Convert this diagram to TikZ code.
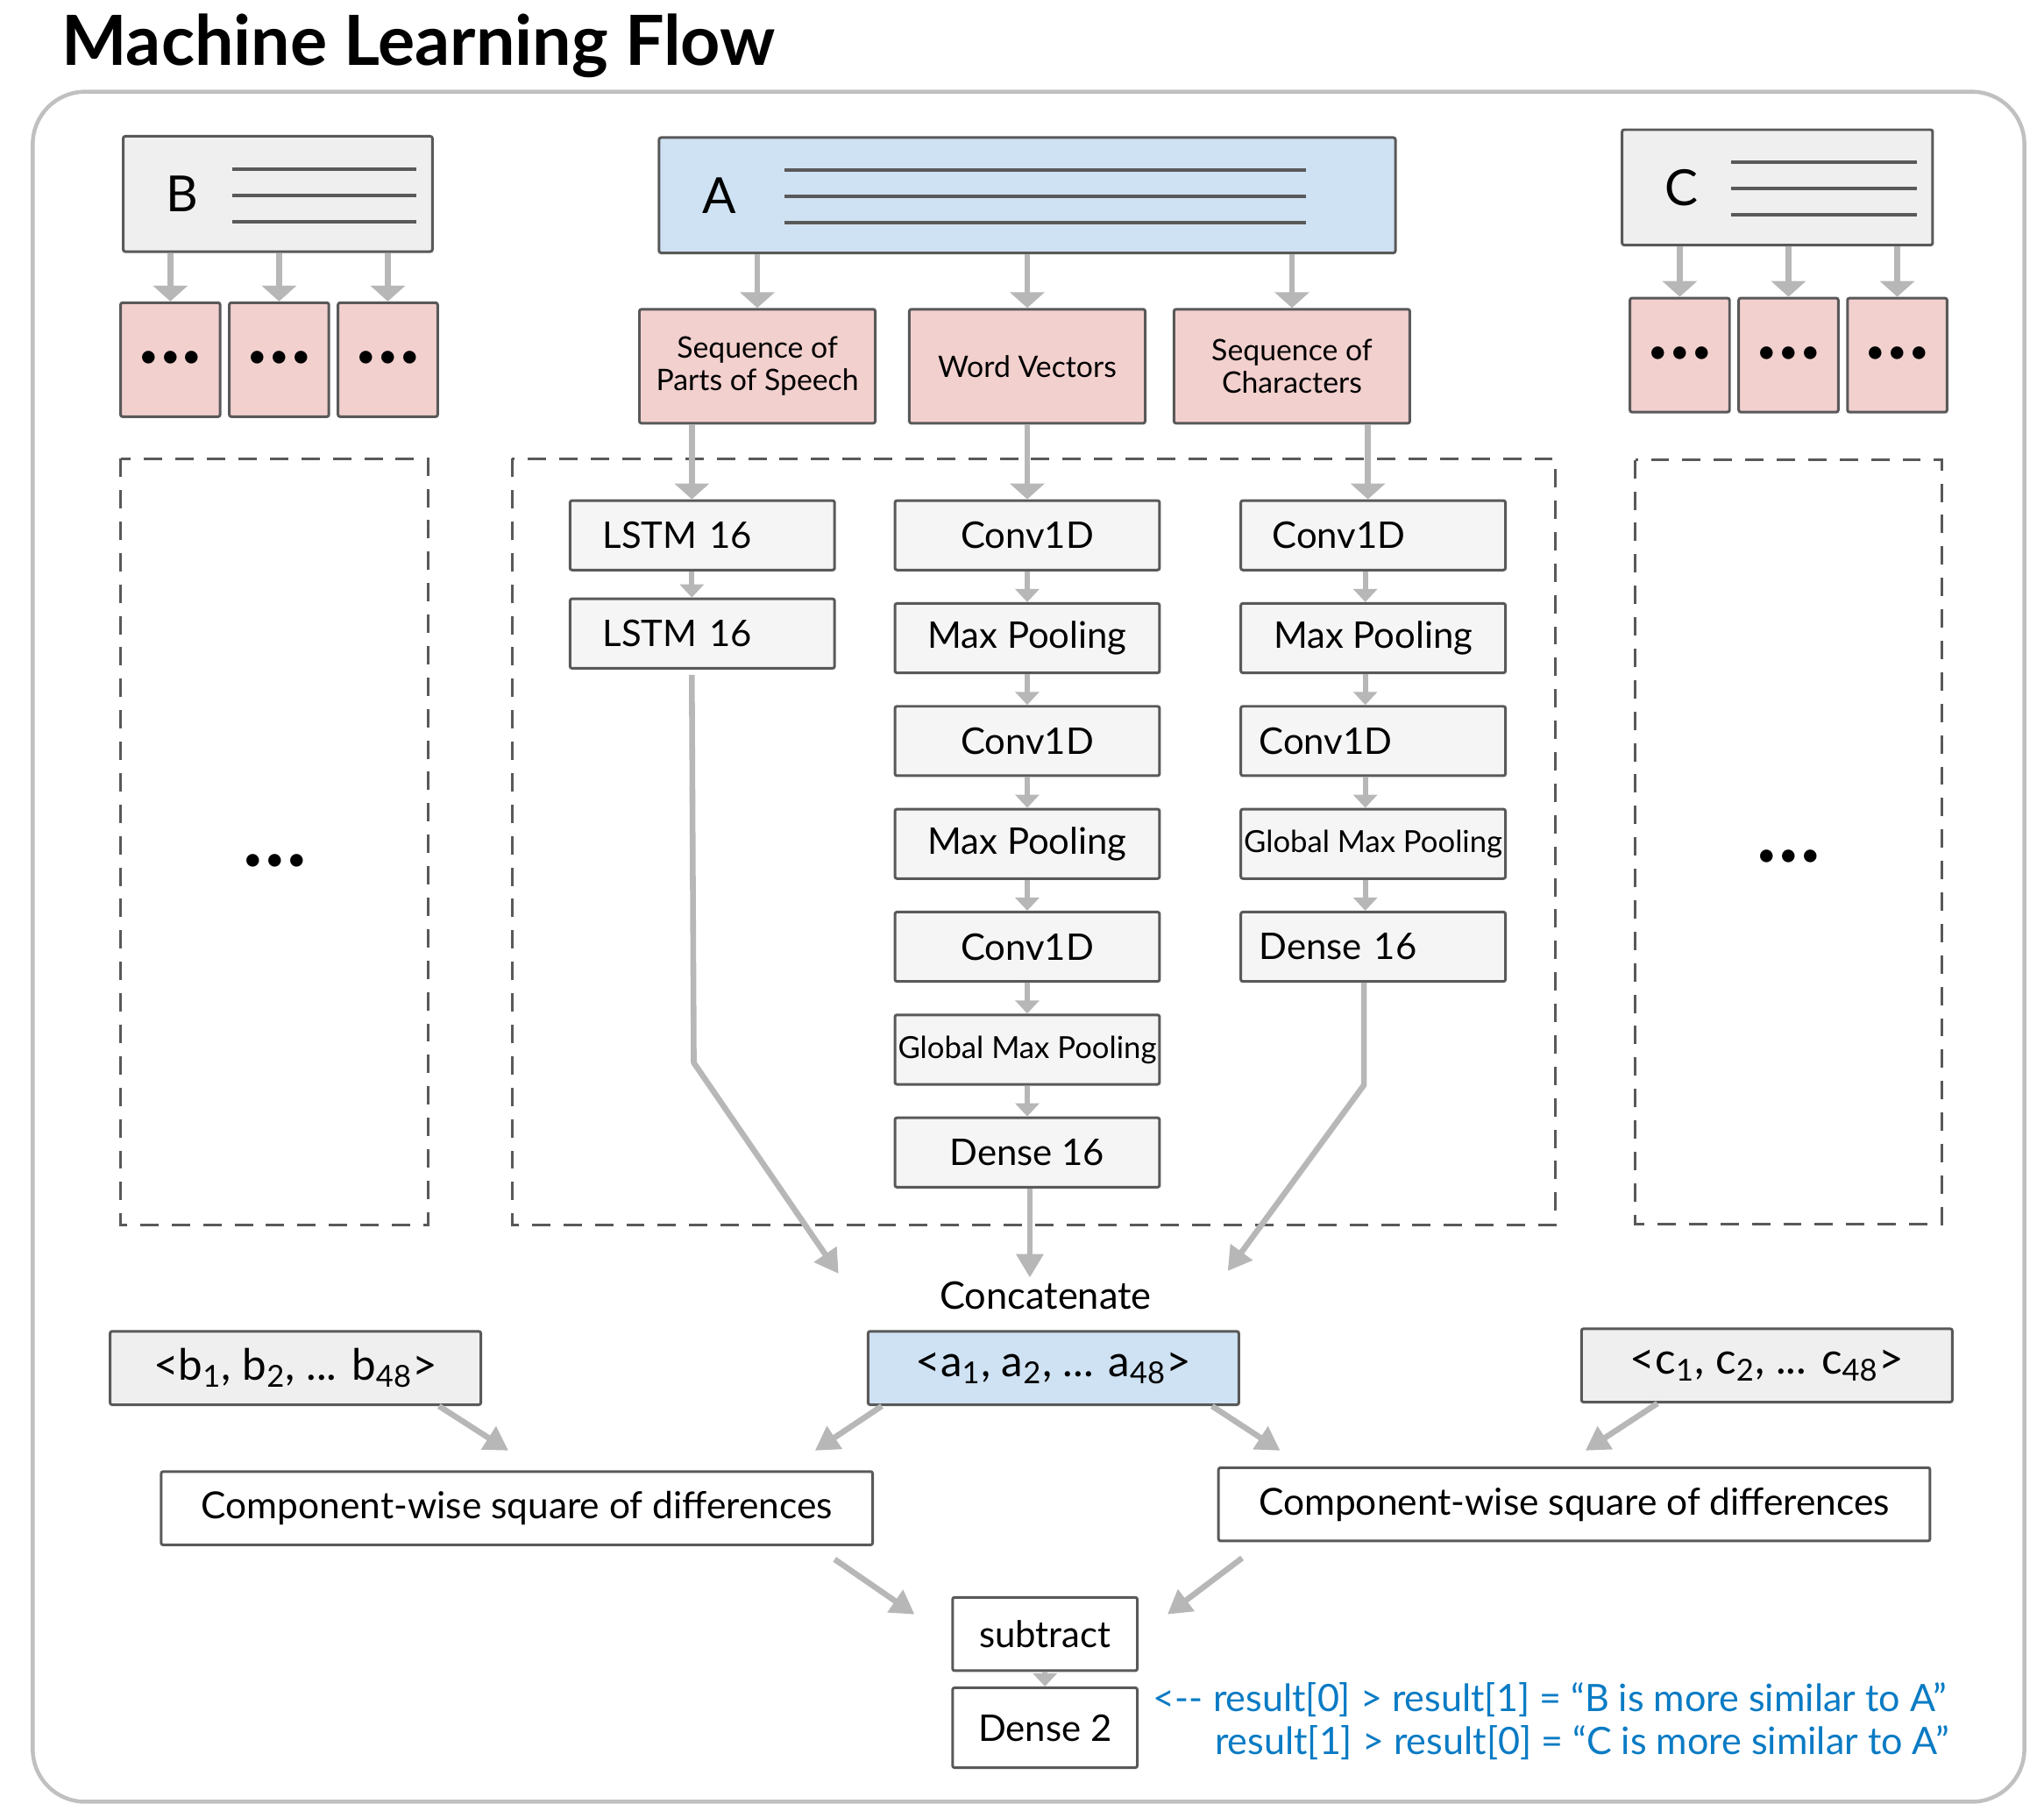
\documentclass[tikz,border=0pt]{standalone}
\usepackage{fontspec}
\setmainfont{Lato}
\usetikzlibrary{arrows.meta,positioning,chains}
\definecolor{boxline}{HTML}{595959}
\definecolor{flowgray}{HTML}{B7B7B7}
\definecolor{framegray}{HTML}{C0C0C0}
\definecolor{pinkfill}{HTML}{F2D0CE}
\definecolor{bluefill}{HTML}{CFE2F3}
\definecolor{docfill}{HTML}{EFEFEF}
\definecolor{layerfill}{HTML}{F5F5F5}
\definecolor{resultblue}{HTML}{0A7BC4}
\newcommand{\connectfeed}[2]{%
  \draw[feed] (#1.south -| #2.north) -- (#2.north)}
\newcommand{\connectlayer}[3]{%
  \draw[link] ([xshift=#3]#1.south) -- ([xshift=#3]#2.north)}
\newcommand{\docrules}[3]{%
  \foreach \dy in {9.5pt,-0.5pt,-10.5pt}
    \draw[rule] ([xshift=#2,yshift=\dy]#1.west) -- ([xshift=-#3,yshift=\dy]#1.east)}
\newcommand{\dotdotdot}{•\kern0.8pt•\kern0.8pt•}

\begin{document}
\begin{tikzpicture}[x=0.5pt, y=-0.5pt,
    box/.style={draw=boxline, line width=1pt, rounded corners=0.8pt, inner sep=0pt},
    doc/.style={box, fill=docfill, minimum height=44pt, align=left, inner xsep=16.5pt,
      font=\fontsize{19}{22}\selectfont},
    feature/.style={box, fill=pinkfill, minimum width=90pt, minimum height=43.5pt,
      align=center, font=\fontsize{11.3}{12.5}\selectfont},
    slot/.style={box, fill=pinkfill, minimum width=38pt, minimum height=43.5pt,
      font=\fontsize{13}{15}\selectfont},
    layer/.style={box, fill=layerfill, minimum width=101pt, minimum height=26.5pt,
      font=\fontsize{14}{16}\selectfont},
    lefttext/.style 2 args={align=left, inner xsep=#1, text width=#2},
    small/.style={font=\fontsize{11.6}{13}\selectfont},
    vec/.style={box, fill=docfill, minimum width=141.5pt, minimum height=28pt,
      font=\fontsize{16.5}{18}\selectfont},
    comp/.style={box, fill=white, minimum width=271.5pt, minimum height=28pt,
      font=\fontsize{14.2}{16}\selectfont},
    op/.style={box, fill=white, minimum width=70.5pt, minimum height=28pt,
      font=\fontsize{14}{16}\selectfont},
    result/.style={anchor=base east, text=resultblue, font=\fontsize{14.4}{16}\selectfont},
    rule/.style={draw=boxline, line width=1.35pt},
    branch/.style={draw=boxline, line width=1pt, dash pattern=on 7pt off 5pt},
    feed/.style={draw=flowgray, line width=2.2pt, -{Triangle[width=13pt,length=6pt]}},
    link/.style={draw=flowgray, line width=2pt, -{Triangle[width=9pt,length=5pt]}},
    merge/.style={draw=flowgray, line width=2.2pt, -{Triangle[width=10pt,length=9pt]}}]
  \useasboundingbox (0,0) rectangle (1560,1387);
  \node[anchor=base west, font=\bfseries\fontsize{26.4}{30}\selectfont] (title) at (40,50)
    {Machine Learning Flow};
  \draw[framegray, line width=1.5pt, rounded corners=20pt] (25,70) rectangle (1545,1375);

  % documents
  \node[doc, text width=85pt] (docB) at (212,148) {B};
  \node[doc, text width=248pt, fill=bluefill] (docA) at (784,149) {A};
  \node[doc, text width=85.5pt] (docC) at (1356.5,143) {C};
  \docrules{docB}{42pt}{6.5pt};
  \docrules{docA}{48.5pt}{34.5pt};
  \docrules{docC}{42pt}{6.5pt};

  % features
  \begin{scope}[start chain=brow going right, node distance=2.5pt]
    \node[slot, on chain] (b1) at (130,274.5) {\dotdotdot};
    \node[slot, on chain] (b2) {\dotdotdot};
    \node[slot, on chain] (b3) {\dotdotdot};
  \end{scope}
  \begin{scope}[start chain=crow going right, node distance=2.5pt]
    \node[slot, on chain] (c1) at (1282,271) {\dotdotdot};
    \node[slot, on chain] (c2) {\dotdotdot};
    \node[slot, on chain] (c3) {\dotdotdot};
  \end{scope}
  \node[feature] (pos) at (578,279.5) {Sequence of\\Parts of Speech};
  \node[feature] (wordvec) at (784,279.5) {Word Vectors};
  \node[feature] (chars) at (986,279.5) {Sequence of\\Characters};

  \connectfeed{docB}{b1};
  \connectfeed{docB}{b2};
  \connectfeed{docB}{b3};
  \connectfeed{docC}{c1};
  \connectfeed{docC}{c2};
  \connectfeed{docC}{c3};
  \connectfeed{docA}{pos};
  \connectfeed{docA}{wordvec};
  \connectfeed{docA}{chars};

  % branches
  \draw[branch] (92,350) rectangle (327,935);
  \draw[branch] (391,350) rectangle (1187,935);
  \draw[branch] (1248,351) rectangle (1482,934);
  \node[font=\fontsize{13}{15}\selectfont] (moreB) at (210,658) {\dotdotdot};
  \node[font=\fontsize{13}{15}\selectfont] (moreC) at (1365,655) {\dotdotdot};

  \begin{scope}[start chain=pcol going below, node distance=10pt]
    \node[layer, lefttext={12.5pt}{76pt}, on chain] (plstm1) at (536,408.5) {LSTM 16};
    \node[layer, lefttext={12.5pt}{76pt}, on chain] (plstm2) {LSTM 16};
  \end{scope}
  \begin{scope}[start chain=wcol going below, node distance=11.75pt]
    \node[layer, on chain] (wconv1) at (784,408.5) {Conv1D};
    \node[layer, on chain] (wpool1) {Max Pooling};
    \node[layer, on chain] (wconv2) {Conv1D};
    \node[layer, on chain] (wpool2) {Max Pooling};
    \node[layer, on chain] (wconv3) {Conv1D};
    \node[layer, small, on chain] (wgpool) {Global Max Pooling};
    \node[layer, on chain] (wdense) {Dense 16};
  \end{scope}
  \begin{scope}[start chain=ccol going below, node distance=11.75pt]
    \node[layer, lefttext={12pt}{77pt}, on chain] (cconv1) at (1048,408.5) {Conv1D};
    \node[layer, on chain] (cpool1) {Max Pooling};
    \node[layer, lefttext={7pt}{87pt}, on chain] (cconv2) {Conv1D};
    \node[layer, small, on chain] (cgpool) {Global Max Pooling};
    \node[layer, lefttext={7pt}{87pt}, on chain] (cdense) {Dense 16};
  \end{scope}

  \draw[feed] ([xshift=-25pt]pos.south) -- ([xshift=-4pt]plstm1.north);
  \draw[feed] (wordvec.south) -- (wconv1.north);
  \draw[feed] ([xshift=29pt]chars.south) -- ([xshift=-2pt]cconv1.north);
  \connectlayer{plstm1}{plstm2}{-4pt};
  \connectlayer{wconv1}{wpool1}{0pt};
  \connectlayer{wpool1}{wconv2}{0pt};
  \connectlayer{wconv2}{wpool2}{0pt};
  \connectlayer{wpool2}{wconv3}{0pt};
  \connectlayer{wconv3}{wgpool}{0pt};
  \connectlayer{wgpool}{wdense}{0pt};
  \connectlayer{cconv1}{cpool1}{-3pt};
  \connectlayer{cpool1}{cconv2}{-3pt};
  \connectlayer{cconv2}{cgpool}{-3pt};
  \connectlayer{cgpool}{cdense}{-3pt};

  % merge
  \coordinate (catl) at (640,972);
  \coordinate (catm) at (786,975);
  \coordinate (catr) at (937,970);
  \draw[merge] ([xshift=-4pt,yshift=-2pt]plstm2.south) -- ++(1.5,296) -- (catl);
  \draw[merge] ([xshift=1pt]wdense.south) -- (catm);
  \draw[merge] ([xshift=-3.5pt]cdense.south) -- ++(0,78) -- (catr);
  \node[anchor=base, font=\fontsize{14.5}{16}\selectfont] (concat) at (798,999) {Concatenate};

  \node[vec] (bvec) at (225.5,1044)
    {<b\textsubscript{1}, b\textsubscript{2}, ... b\textsubscript{48}>};
  \node[vec, fill=bluefill] (avec) at (804,1044)
    {<a\textsubscript{1}, a\textsubscript{2}, ... a\textsubscript{48}>};
  \node[vec] (cvec) at (1348.5,1042)
    {<c\textsubscript{1}, c\textsubscript{2}, ... c\textsubscript{48}>};
  \node[comp] (compl) at (394.5,1151) {Component-wise square of differences};
  \node[comp] (compr) at (1201.5,1148) {Component-wise square of differences};
  \node[op] (sub) at (797.5,1247) {subtract};
  \node[op, minimum height=30.5pt] (out) at (797.5,1318.5) {Dense 2};

  \draw[merge] ([xshift=54.75pt]bvec.south) -- ([xshift=-3.25pt,yshift=7.5pt]compl.north);
  \draw[merge] ([xshift=-65.5pt]avec.south) -- ([xshift=113.75pt,yshift=7.5pt]compl.north);
  \draw[merge] ([xshift=60.5pt]avec.south) -- ([xshift=-112.25pt,yshift=6pt]compr.north);
  \draw[merge] ([xshift=-41.75pt]cvec.south) -- ([xshift=4.25pt,yshift=6pt]compr.north);
  \draw[merge] ([xshift=121.25pt,yshift=-5pt]compl.south) -- ([xshift=-14pt,yshift=7.5pt]sub.west);
  \draw[merge] ([xshift=-126.75pt,yshift=-6pt]compr.south) -- ([xshift=11pt,yshift=7.5pt]sub.east);
  \draw[link] (sub.south) -- (out.north);

  \node[result] (res1) at (1493,1306) {<-{}- result[0] > result[1] = “B is more similar to A”};
  \node[result] (res2) at (1495,1339) {result[1] > result[0] = “C is more similar to A”};
\end{tikzpicture}
\end{document}
